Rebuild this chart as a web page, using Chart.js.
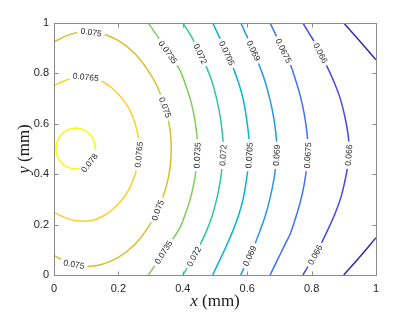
<!DOCTYPE html>
<html>
<head>
<meta charset="utf-8">
<script src="https://cdn.jsdelivr.net/npm/chart.js@4.4.0/dist/chart.umd.min.js"></script>
<style>
  html, body { margin: 0; padding: 0; background: #fff; }
  canvas { display: block; }
</style>
</head>
<body>
<canvas id="contourChart" width="415" height="312"></canvas>
<script>
// contour levels and their parula colours
const levels = [0.0645, 0.066, 0.0675, 0.069, 0.0705, 0.072, 0.0735, 0.075, 0.0765, 0.078];
const levelColors = ['#3e26a8', '#4747eb', '#3e6fff', '#2796eb', '#08b4d0', '#31c69f', '#81cc59', '#dcbd29', '#fccf30', '#f9fb0e'];

const tickValues = [0, 0.2, 0.4, 0.6, 0.8, 1];

// contour lines (x, y in mm)
const c0780x = [0.110, 0.120, 0.126, 0.128, 0.126, 0.120, 0.110, 0.098, 0.083, 0.067, 0.051, 0.036, 0.024, 0.014, 0.008, 0.006, 0.008, 0.014, 0.024, 0.036, 0.051, 0.067, 0.083, 0.098, 0.110];
const c0780y = [0.445, 0.461, 0.481, 0.502, 0.523, 0.543, 0.559, 0.572, 0.580, 0.583, 0.580, 0.572, 0.559, 0.543, 0.523, 0.502, 0.481, 0.461, 0.445, 0.432, 0.424, 0.421, 0.424, 0.432, 0.445];

const c0765x = [0, 0.03, 0.06, 0.09, 0.12, 0.15, 0.18, 0.21, 0.235, 0.252, 0.262, 0.265, 0.262, 0.252, 0.235, 0.21, 0.18, 0.15, 0.12, 0.09, 0.06, 0.03, 0];
const c0765y = [0.751, 0.770, 0.783, 0.787, 0.783, 0.768, 0.742, 0.703, 0.655, 0.600, 0.545, 0.500, 0.455, 0.400, 0.345, 0.297, 0.258, 0.232, 0.217, 0.213, 0.217, 0.230, 0.249];

const c0750x = [0, 0.05, 0.1, 0.15, 0.2, 0.25, 0.29, 0.32, 0.345, 0.36, 0.364, 0.36, 0.345, 0.32, 0.29, 0.25, 0.2, 0.15, 0.1, 0.05, 0];
const c0750y = [0.925, 0.955, 0.966, 0.957, 0.930, 0.880, 0.815, 0.750, 0.665, 0.580, 0.500, 0.420, 0.335, 0.250, 0.185, 0.120, 0.070, 0.043, 0.034, 0.045, 0.078];

const c0735x = [0.293, 0.32, 0.345, 0.37, 0.392, 0.41, 0.425, 0.437, 0.444, 0.446, 0.444, 0.437, 0.425, 0.41, 0.392, 0.37, 0.345, 0.32, 0.293];
const c0735y = [1, 0.95, 0.90, 0.855, 0.81, 0.75, 0.69, 0.62, 0.55, 0.50, 0.45, 0.38, 0.31, 0.25, 0.19, 0.145, 0.10, 0.05, 0];

const c0720x = [0.4, 0.425, 0.45, 0.472, 0.49, 0.505, 0.516, 0.523, 0.526, 0.523, 0.516, 0.505, 0.49, 0.472, 0.45, 0.425, 0.4];
const c0720y = [1, 0.95, 0.89, 0.83, 0.77, 0.70, 0.63, 0.56, 0.50, 0.44, 0.37, 0.30, 0.23, 0.17, 0.11, 0.05, 0];

const c0705x = [0.493, 0.515, 0.537, 0.557, 0.574, 0.588, 0.598, 0.605, 0.607, 0.605, 0.598, 0.588, 0.574, 0.557, 0.537, 0.515, 0.493];
const c0705y = [1, 0.94, 0.88, 0.82, 0.76, 0.695, 0.62, 0.55, 0.50, 0.45, 0.38, 0.305, 0.24, 0.18, 0.12, 0.06, 0];

const c0690x = [0.58, 0.6, 0.62, 0.638, 0.655, 0.671, 0.683, 0.69, 0.692, 0.69, 0.683, 0.671, 0.655, 0.638, 0.62, 0.6, 0.58];
const c0690y = [1, 0.945, 0.89, 0.83, 0.77, 0.695, 0.62, 0.55, 0.50, 0.45, 0.38, 0.305, 0.23, 0.17, 0.11, 0.055, 0];

const c0675x = [0.671, 0.692, 0.713, 0.734, 0.75, 0.765, 0.777, 0.786, 0.789, 0.786, 0.777, 0.765, 0.75, 0.734, 0.713, 0.692, 0.671];
const c0675y = [1, 0.945, 0.89, 0.835, 0.775, 0.71, 0.64, 0.56, 0.50, 0.44, 0.36, 0.29, 0.225, 0.165, 0.11, 0.055, 0];

const c0660x = [0.773, 0.792, 0.811, 0.83, 0.848, 0.87, 0.889, 0.903, 0.913, 0.917, 0.913, 0.903, 0.889, 0.87, 0.848, 0.83, 0.811, 0.792, 0.773];
const c0660y = [1, 0.96, 0.92, 0.875, 0.827, 0.765, 0.70, 0.63, 0.56, 0.50, 0.44, 0.37, 0.30, 0.235, 0.173, 0.125, 0.08, 0.04, 0];

const c0645ax = [0.9, 0.95, 1];
const c0645ay = [1, 0.928, 0.854];
const c0645bx = [0.9, 0.95, 1];
const c0645by = [0, 0.072, 0.148];

// inline labels: level and approximate spot (snapped onto the line)
const labelLevel = [0.078, 0.0765, 0.0765, 0.075, 0.075, 0.075, 0.075, 0.0735, 0.0735, 0.0735, 0.072, 0.072, 0.072, 0.0705, 0.0705, 0.069, 0.069, 0.069, 0.0675, 0.0675, 0.066, 0.066, 0.066];
const labelX = [0.11, 0.098, 0.264, 0.115, 0.345, 0.316, 0.062, 0.355, 0.446, 0.34, 0.45, 0.526, 0.432, 0.537, 0.607, 0.62, 0.692, 0.609, 0.713, 0.789, 0.827, 0.917, 0.811];
const labelY = [0.445, 0.78, 0.478, 0.96, 0.665, 0.26, 0.043, 0.885, 0.475, 0.09, 0.875, 0.475, 0.075, 0.88, 0.475, 0.89, 0.475, 0.075, 0.89, 0.475, 0.88, 0.475, 0.08];

const lines = [
    [0.078, c0780x, c0780y],
    [0.0765, c0765x, c0765y],
    [0.075, c0750x, c0750y],
    [0.0735, c0735x, c0735y],
    [0.072, c0720x, c0720y],
    [0.0705, c0705x, c0705y],
    [0.069, c0690x, c0690y],
    [0.0675, c0675x, c0675y],
    [0.066, c0660x, c0660y],
    [0.0645, c0645ax, c0645ay],
    [0.0645, c0645bx, c0645by]
];

function levelText(v) {
    return String(v);
}

const datasets = lines.map(([lev, xs, ys]) => ({
    level: lev,
    data: xs.map((x, i) => ({ x: x, y: ys[i] })),
    showLine: true,
    borderColor: levelColors[levels.indexOf(lev)],
    borderWidth: 1.5,
    pointRadius: 0,
    tension: 0.4,
    fill: false
}));

// text labels sitting on the lines, with a white gap behind them
const contourLabels = {
    id: 'contourLabels',
    afterDatasetsDraw(chart) {
        const ctx = chart.ctx;
        ctx.save();
        ctx.font = '8.5px "Liberation Sans", Arial, sans-serif';
        ctx.textAlign = 'center';
        ctx.textBaseline = 'middle';
        labelLevel.forEach((lev, i) => {
            const px = chart.scales.x.getPixelForValue(labelX[i]);
            const py = chart.scales.y.getPixelForValue(labelY[i]);
            let best = null;
            chart.data.datasets.forEach((ds, di) => {
                if (ds.level !== lev) return;
                const pts = chart.getDatasetMeta(di).data;
                for (let k = 0; k < pts.length - 1; k++) {
                    const a = pts[k], b = pts[k + 1];
                    const dx = b.x - a.x, dy = b.y - a.y;
                    const len2 = dx * dx + dy * dy;
                    let t = len2 ? ((px - a.x) * dx + (py - a.y) * dy) / len2 : 0;
                    t = Math.max(0, Math.min(1, t));
                    const qx = a.x + t * dx, qy = a.y + t * dy;
                    const d = (qx - px) ** 2 + (qy - py) ** 2;
                    if (!best || d < best.d) best = { d: d, x: qx, y: qy, ang: Math.atan2(dy, dx) };
                }
            });
            if (!best) return;
            let ang = best.ang;
            if (ang >= Math.PI / 2) ang -= Math.PI;
            if (ang < -Math.PI / 2) ang += Math.PI;
            const txt = levelText(lev);
            const w = ctx.measureText(txt).width;
            ctx.save();
            ctx.translate(best.x, best.y);
            ctx.rotate(ang);
            ctx.fillStyle = '#ffffff';
            ctx.fillRect(-w / 2 - 3, -4, w + 6, 8);
            ctx.fillStyle = '#262626';
            ctx.fillText(txt, 0, 0.5);
            ctx.restore();
        });
        ctx.restore();
    }
};

// box, inward ticks and the LaTeX-like axis titles
const axesBox = {
    id: 'axesBox',
    afterDraw(chart) {
        const ctx = chart.ctx;
        const a = chart.chartArea;
        const xs = chart.scales.x, ys = chart.scales.y;
        const L = Math.round(a.left) + 0.5, R = Math.round(a.right) + 0.5;
        const T = Math.round(a.top) + 0.5, B = Math.round(a.bottom) + 0.5;
        ctx.save();
        ctx.strokeStyle = '#8a8a8a';
        ctx.lineWidth = 1;
        ctx.strokeRect(L, T, R - L, B - T);
        ctx.beginPath();
        tickValues.forEach(v => {
            const x = Math.round(xs.getPixelForValue(v)) + 0.5;
            ctx.moveTo(x, B); ctx.lineTo(x, B - 4);
            ctx.moveTo(x, T); ctx.lineTo(x, T + 4);
            const y = Math.round(ys.getPixelForValue(v)) + 0.5;
            ctx.moveTo(L, y); ctx.lineTo(L + 4, y);
            ctx.moveTo(R, y); ctx.lineTo(R - 4, y);
        });
        ctx.stroke();

        ctx.fillStyle = '#1a1a1a';
        ctx.textBaseline = 'middle';
        const drawTitle = (sym, unit, cx, cy, rot) => {
            ctx.save();
            ctx.translate(cx, cy);
            ctx.rotate(rot);
            ctx.font = 'italic 17px "Liberation Serif", "DejaVu Serif", serif';
            const w1 = ctx.measureText(sym + ' ').width;
            ctx.font = '17px "Liberation Serif", "DejaVu Serif", serif';
            const w2 = ctx.measureText(unit).width;
            let x0 = -(w1 + w2) / 2;
            ctx.textAlign = 'left';
            ctx.font = 'italic 17px "Liberation Serif", "DejaVu Serif", serif';
            ctx.fillText(sym, x0, 0);
            ctx.font = '17px "Liberation Serif", "DejaVu Serif", serif';
            ctx.fillText(unit, x0 + w1, 0);
            ctx.restore();
        };
        drawTitle('x', '(mm)', (a.left + a.right) / 2, 302, 0);
        drawTitle('y', '(mm)', 25, (a.top + a.bottom) / 2, -Math.PI / 2);
        ctx.restore();
    }
};

const tickFont = { family: '"Liberation Sans", Arial, sans-serif', size: 11 };

new Chart(document.getElementById('contourChart').getContext('2d'), {
    type: 'scatter',
    data: { datasets: datasets },
    options: {
        responsive: false,
        animation: false,
        layout: { padding: { top: 23, right: 39, left: 0, bottom: 0 } },
        plugins: {
            legend: { display: false },
            tooltip: { enabled: false }
        },
        scales: {
            x: {
                type: 'linear',
                min: 0,
                max: 1,
                afterBuildTicks: s => { s.ticks = tickValues.map(v => ({ value: v })); },
                afterFit: s => { s.height = 37; },
                grid: { display: false, drawTicks: false },
                border: { display: false },
                ticks: { color: '#262626', font: tickFont, padding: 7, maxRotation: 0, callback: v => String(v) }
            },
            y: {
                type: 'linear',
                min: 0,
                max: 1,
                afterBuildTicks: s => { s.ticks = tickValues.map(v => ({ value: v })); },
                afterFit: s => { s.width = 54; },
                grid: { display: false, drawTicks: false },
                border: { display: false },
                ticks: { color: '#262626', font: tickFont, padding: 5, callback: v => String(v) }
            }
        }
    },
    plugins: [contourLabels, axesBox]
});
</script>
</body>
</html>
